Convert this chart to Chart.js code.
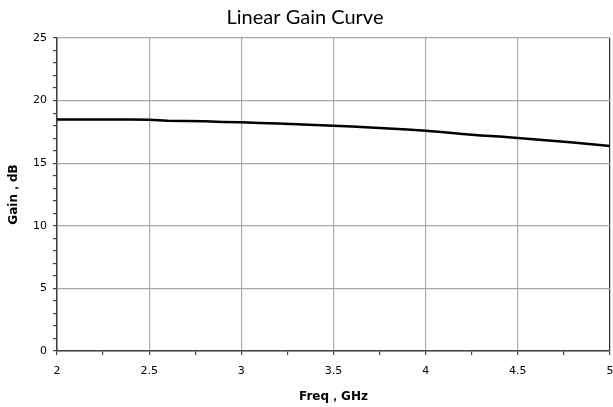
<!DOCTYPE html>
<html lang="en">
<head>
    <meta charset="UTF-8">
    <title>Linear Gain Curve</title>
    <script src="https://cdn.jsdelivr.net/npm/chart.js"></script>
    <style>
        html, body {
            margin: 0;
            padding: 0;
            background: #ffffff;
        }
        #wrap {
            width: 613px;
            height: 407px;
        }
    </style>
</head>
<body>
    <div id="wrap">
        <canvas id="gain-chart" width="613" height="407"></canvas>
    </div>
    <script>
        // Frequency points (GHz) and gain (dB)
        const freqGHz = [2.0, 2.1, 2.2, 2.3, 2.4, 2.5, 2.6, 2.7, 2.8, 2.9,
                         3.0, 3.1, 3.2, 3.3, 3.4, 3.5, 3.6, 3.7, 3.8, 3.9,
                         4.0, 4.1, 4.2, 4.3, 4.4, 4.5, 4.6, 4.7, 4.8, 4.9, 5.0];
        const gainDb = [18.50, 18.50, 18.50, 18.50, 18.50, 18.48, 18.40, 18.38, 18.36, 18.30,
                        18.27, 18.22, 18.17, 18.12, 18.06, 18.00, 17.93, 17.85, 17.77, 17.69,
                        17.60, 17.47, 17.33, 17.22, 17.13, 17.02, 16.90, 16.78, 16.65, 16.52, 16.37];

        // Labelled ticks
        const xTickLabels = [2, 2.5, 3, 3.5, 4, 4.5, 5];
        const yTickLabels = [0, 5, 10, 15, 20, 25];

        const points = freqGHz.map((f, i) => ({ x: f, y: gainDb[i] }));

        function isLabelled(list, v) {
            return list.some(t => Math.abs(t - v) < 1e-6);
        }

        const ctx = document.getElementById('gain-chart').getContext('2d');
        new Chart(ctx, {
            type: 'line',
            data: {
                datasets: [{
                    data: points,
                    borderColor: '#000000',
                    borderWidth: 2.5,
                    pointRadius: 0,
                    tension: 0,
                    fill: false
                }]
            },
            options: {
                responsive: false,
                animation: false,
                layout: {
                    padding: { left: 0, right: 3, top: 0, bottom: 0 }
                },
                plugins: {
                    legend: { display: false },
                    tooltip: { enabled: false },
                    title: {
                        display: true,
                        text: 'Linear Gain Curve',
                        color: '#000000',
                        font: { family: 'Lato', size: 20, weight: 'normal', lineHeight: 1.2 },
                        padding: { top: 6, bottom: 8 }
                    }
                },
                scales: {
                    x: {
                        type: 'linear',
                        min: 2,
                        max: 5,
                        afterFit: scale => {
                            scale.height = 56;
                            // keep the plot edges where the reference has them
                            scale.paddingLeft = 0;
                            scale.paddingRight = 0;
                        },
                        afterBuildTicks: scale => {
                            const t = [];
                            for (let i = 0; i <= 12; i++) t.push({ value: 2 + i * 0.25 });
                            scale.ticks = t;
                        },
                        ticks: {
                            autoSkip: false,
                            maxRotation: 0,
                            color: '#000000',
                            font: { family: 'DejaVu Sans', size: 11 },
                            padding: 10,
                            callback: v => isLabelled(xTickLabels, v) ? String(v) : ''
                        },
                        grid: {
                            color: c => {
                                const v = c.tick ? c.tick.value : 0;
                                if (Math.abs(v - 5) < 1e-6) return '#303030';
                                return isLabelled(xTickLabels, v) ? '#a8a8a8' : 'rgba(0,0,0,0)';
                            },
                            tickColor: '#404040',
                            tickLength: 4,
                            lineWidth: 1.2
                        },
                        border: { color: '#404040', width: 1.5 },
                        title: {
                            display: true,
                            text: 'Freq，GHz',
                            color: '#000000',
                            font: { family: 'DejaVu Sans', size: 12, weight: 'bold' },
                            padding: { top: 6, bottom: 3 }
                        }
                    },
                    y: {
                        min: 0,
                        max: 25,
                        afterFit: scale => {
                            scale.width = 57;
                            scale.paddingTop = 0;
                            scale.paddingBottom = 0;
                        },
                        afterBuildTicks: scale => {
                            const t = [];
                            for (let i = 0; i <= 25; i++) t.push({ value: i });
                            scale.ticks = t;
                        },
                        ticks: {
                            autoSkip: false,
                            color: '#000000',
                            font: { family: 'DejaVu Sans', size: 11 },
                            padding: 6,
                            callback: v => isLabelled(yTickLabels, v) ? String(v) : ''
                        },
                        grid: {
                            color: c => {
                                const v = c.tick ? c.tick.value : 0;
                                return isLabelled(yTickLabels, v) ? '#a8a8a8' : 'rgba(0,0,0,0)';
                            },
                            tickColor: '#404040',
                            tickLength: 4,
                            lineWidth: 1.2
                        },
                        border: { color: '#404040', width: 1.5 },
                        title: {
                            display: true,
                            text: 'Gain，dB',
                            color: '#000000',
                            font: { family: 'DejaVu Sans', size: 12, weight: 'bold' },
                            padding: { top: 7, bottom: 4 }
                        }
                    }
                }
            }
        });
    </script>
</body>
</html>
